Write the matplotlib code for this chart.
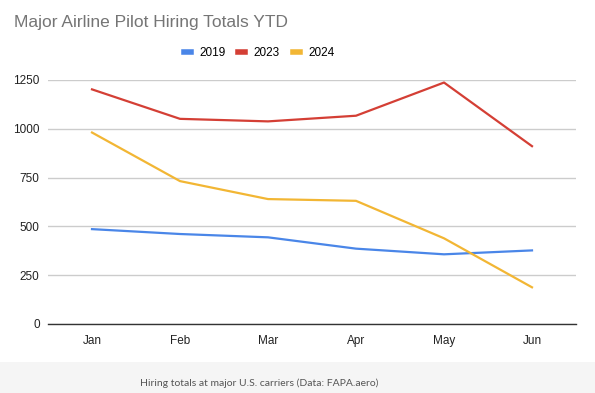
import matplotlib
matplotlib.use("Agg")
import matplotlib.pyplot as plt
from matplotlib.patches import Rectangle

months = ["Jan", "Feb", "Mar", "Apr", "May", "Jun"]
s2019 = [486, 461, 444, 386, 357, 377]
s2023 = [1202, 1051, 1038, 1067, 1237, 911]
s2024 = [981, 732, 640, 631, 439, 188]
yticks = [0, 250, 500, 750, 1000, 1250]

colors = {"2019": "#4a86e8", "2023": "#d43f35", "2024": "#f2b634"}

W, H = 595, 393
fig = plt.figure(figsize=(W / 100, H / 100), dpi=100)
fig.patch.set_facecolor("white")

# footer band
fig.patches.append(Rectangle((0, 0), 1, 1 - 362 / H, transform=fig.transFigure,
                             facecolor="#f5f5f5", edgecolor="none", zorder=0))
fig.text(259 / W, 1 - 383 / H, "Hiring totals at major U.S. carriers (Data: FAPA.aero)",
         ha="center", va="center", fontsize=7.5, color="#555555", family="Lato")

ax = fig.add_axes([48 / W, 1 - 324 / H, (576 - 48) / W, (324 - 80) / H])
x = list(range(len(months)))
for name, vals in (("2019", s2019), ("2023", s2023), ("2024", s2024)):
    ax.plot(x, vals, color=colors[name], lw=1.6, label=name, clip_on=False, zorder=3)

ax.set_xlim(-0.5, len(months) - 0.5)
ax.set_ylim(0, 1250)
ax.set_yticks(yticks)
ax.set_yticklabels([str(v) for v in yticks])
ax.set_xticks(x)
ax.set_xticklabels(months)
ax.grid(axis="y", color="#cccccc", lw=1)
ax.set_axisbelow(True)
for s in ("top", "right", "left"):
    ax.spines[s].set_visible(False)
ax.spines["bottom"].set_color("#333333")
ax.spines["bottom"].set_linewidth(1)
ax.tick_params(axis="y", length=0, labelsize=8.5, labelcolor="#222222", pad=6)
ax.tick_params(axis="x", length=0, labelsize=8.5, labelcolor="#222222", pad=8)
for lab in ax.get_xticklabels() + ax.get_yticklabels():
    lab.set_family("Liberation Sans")

fig.text(14 / W, 1 - 23 / H, "Major Airline Pilot Hiring Totals YTD", ha="left", va="center",
         fontsize=12.5, color="#757575", family="Liberation Sans")

leg = fig.legend(loc="center", bbox_to_anchor=(259 / W, 1 - 53 / H), ncol=3, frameon=False,
                 handlelength=0.6, handleheight=0.5, columnspacing=1.1, handletextpad=0.7,
                 prop={"family": "Liberation Sans", "size": 8.5})
for h in leg.get_lines():
    h.set_linewidth(4)

fig.savefig("out.png", dpi=100)
